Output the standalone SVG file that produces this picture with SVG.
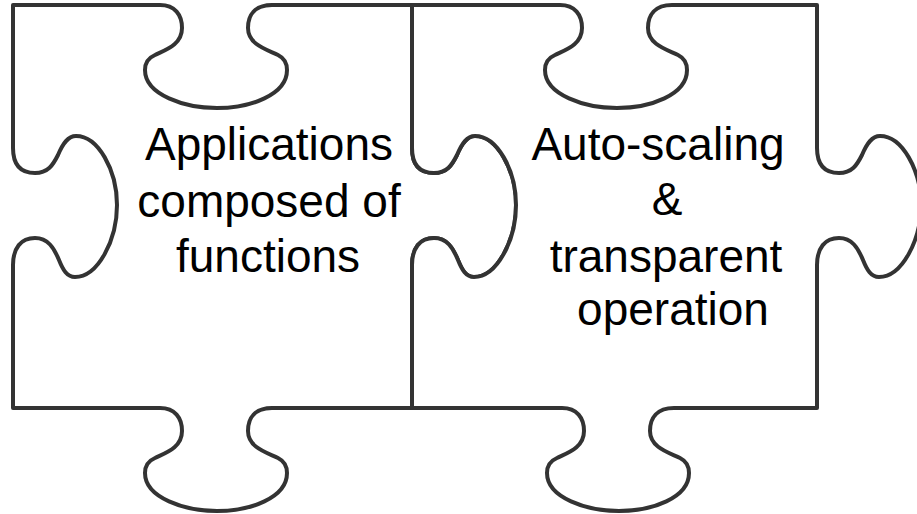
<svg xmlns="http://www.w3.org/2000/svg" width="917" height="514" viewBox="0 0 917 514">
<style>
.piece{fill:#fff;stroke:#333;stroke-width:4;stroke-linejoin:round}
.lbl{font-family:"Liberation Sans",Arial,sans-serif;font-size:46px;fill:#000;text-anchor:middle}
</style>
<rect width="917" height="514" fill="#fff"/>
<g id="piece1">
<path class="piece" d="M13,5 H160 C175,5 182,15 182,28 C182,45 165,50 155,55 C148,58 145,63 145,70 C145,95 185,108 217,108 C250,108 287,95 287,70 C287,63 284,58 278,55 C268,50 248,45 248,28 C248,15 255,5 272,5 H412 V148 C412,165 420,173 434,173 C447,173 452,165 457,155 C462,143 467,136 475,136 C497,136 516,170 516,205 C516,240 497,277 474,277 C466,277 462,270 458,260 C453,248 447,238 434,238 C420,238 412,248 412,265 V408 H272 C255,408 248,418 248,431 C248,448 268,453 278,458 C284,461 287,466 287,473 C287,498 250,511 217,511 C185,511 145,498 145,473 C145,466 148,461 155,458 C165,453 182,448 182,431 C182,418 175,408 160,408 H13 V265 C13,248 21,238 35,238 C48,238 54,248 59,260 C63,270 67,277 75,277 C98,277 117,240 117,205 C117,170 98,136 76,136 C68,136 63,143 58,155 C53,165 48,173 35,173 C21,173 13,165 13,148 Z"/>
<text class="lbl"><tspan x="269" y="160">Applications</tspan><tspan x="269" y="217">composed of</tspan><tspan x="268" y="272">functions</tspan></text>
</g>
<g id="piece2">
<path class="piece" d="M412,5 H560 C575,5 582,15 582,28 C582,45 565,50 555,55 C548,58 545,63 545,70 C545,95 585,108 617,108 C650,108 687,95 687,70 C687,63 684,58 678,55 C668,50 648,45 648,28 C648,15 655,5 672,5 H817 V148 C817,165 825,173 839,173 C852,173 857,165 862,155 C867,143 872,136 880,136 C902,136 921,170 921,205 C921,240 902,277 879,277 C871,277 867,270 863,260 C858,248 852,238 839,238 C825,238 817,248 817,265 V408 H674 C657,408 650,418 650,431 C650,448 670,453 680,458 C686,461 689,466 689,473 C689,498 652,511 619,511 C587,511 547,498 547,473 C547,466 550,461 557,458 C567,453 584,448 584,431 C584,418 577,408 562,408 H412 V265 C412,248 420,238 434,238 C447,238 453,248 458,260 C462,270 466,277 474,277 C497,277 516,240 516,205 C516,170 497,136 475,136 C467,136 462,143 457,155 C452,165 447,173 434,173 C420,173 412,165 412,148 Z"/>
<text class="lbl"><tspan x="658" y="160">Auto-scaling</tspan><tspan x="667" y="215">&amp;</tspan><tspan x="666" y="272">transparent</tspan><tspan x="673" y="325">operation</tspan></text>
</g>
</svg>
